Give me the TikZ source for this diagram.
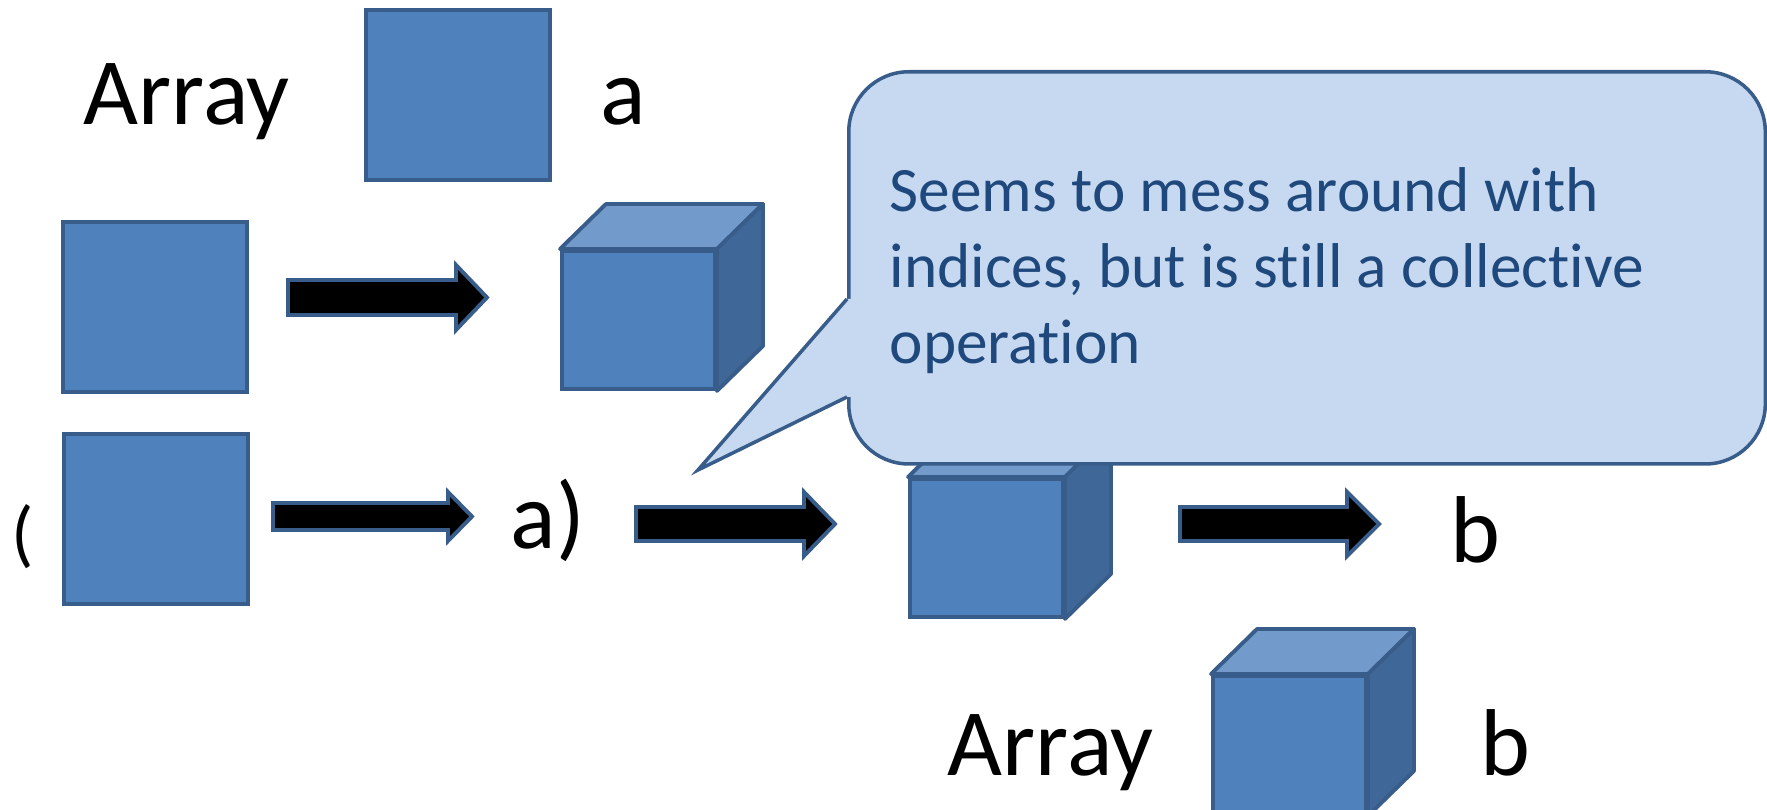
\documentclass[tikz,border=0pt]{standalone}
\usepackage{fontspec}
\setmainfont{Carlito}[Ligatures=NoCommon]
\usetikzlibrary{calc}
\definecolor{boxfill}{HTML}{4F81BD}
\definecolor{boxline}{HTML}{385D8A}
\definecolor{cubetop}{HTML}{729ACA}
\definecolor{cubeside}{HTML}{3F6797}
\definecolor{callfill}{HTML}{C6D9F1}
\definecolor{calltext}{HTML}{1F497D}
\newcommand\mycube[3]{%
  \node[front] (#1) at (#2,#3) {};
  \draw[face,fill=cubetop] (#1.north west) -- ($(#1.north west)+(46,-45)$) -- ($(#1.north east)+(46,-45)$) -- (#1.north east) -- cycle;
  \draw[face,fill=cubeside] (#1.north east) -- ($(#1.north east)+(46,-45)$) -- ($(#1.south east)+(46,-45)$) -- (#1.south east) -- cycle;
}
\newcommand\blockarrow[6]{%
  \draw[barrow] (#1,#4-#5) -- (#2,#4-#5) -- (#2,#4-#6) -- (#3,#4) -- (#2,#4+#6) -- (#2,#4+#5) -- (#1,#4+#5) -- cycle;
}
\begin{document}
\begin{tikzpicture}[x=0.01cm,y=-0.01cm,
  sq/.style={draw=boxline,fill=boxfill,line width=1.1pt,minimum width=1.84cm,minimum height=1.70cm,inner sep=0pt,anchor=north west},
  front/.style={draw=boxline,fill=boxfill,line width=1.1pt,minimum width=1.53cm,minimum height=1.38cm,inner sep=0pt,anchor=north west},
  face/.style={draw=boxline,line width=1.1pt,line join=round},
  big/.style={font=\fontsize{27}{32}\selectfont,inner sep=0pt,anchor=base west},
  ctext/.style={font=\fontsize{18}{21.6}\selectfont,text=calltext,inner sep=0pt,anchor=base west},
  barrow/.style={draw=boxline,fill=black,line width=1.1pt,line join=miter}]
\useasboundingbox (0,0) rectangle (1767,810);

% row 1
\node[big] (arr1) at (83,125) {Array};
\node[sq] (sqa) at (364,8) {};
\node[big] (la) at (600,125) {a};

% row 2
\node[sq] (sq2) at (61,220) {};
\blockarrow{288}{456}{487}{297.5}{17.5}{32.5}
\mycube{c1}{560}{249}

% row 3
\node[big,font=\fontsize{21}{25}\selectfont] (lp) at (11,559) {(};
\node[sq] (sq3) at (62,432) {};
\blockarrow{273}{448}{472}{516.5}{13.5}{24.5}
\node[big] (la2) at (510,549) {a)};
\blockarrow{636}{804}{835}{524}{17}{32}
\mycube{c2}{908}{477}
\blockarrow{1180}{1347}{1379}{524}{17}{32}
\node[big] (lb) at (1450,563) {b};

% bottom
\node[big] (arr2) at (947,775) {Array};
\mycube{c3}{1211}{674}
\node[big] (lb2) at (1480,775) {b};

% callout
\node[draw=boxline,fill=callfill,line width=1pt,rounded corners=0.6cm,minimum width=9.16cm,minimum height=3.92cm,inner sep=0pt,anchor=north west] (call) at (847,70) {};
\fill[callfill] (847,299) -- (856,299) -- (856,397) -- (847,397) -- (698,470) -- cycle;
\coordinate (tip) at (698,470);
\draw[boxline,line width=1pt,line join=miter] (847,299) -- (tip) -- (847,397);
\node[ctext] (t1) at (889,212) {Seems to mess around with};
\node[ctext] (t2) at (889,288) {indices, but is still a collective};
\node[ctext] (t3) at (889,364) {operation};
\end{tikzpicture}
\end{document}
